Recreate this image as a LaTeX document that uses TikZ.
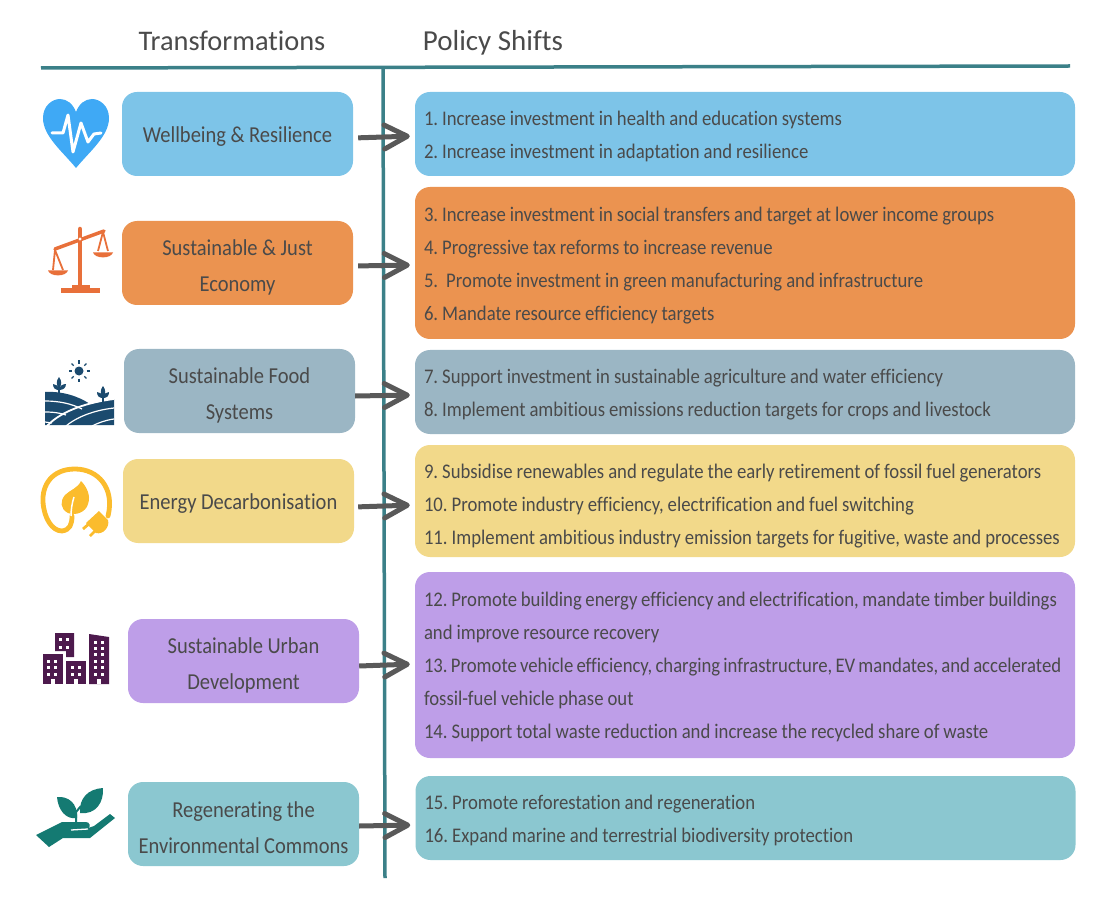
\documentclass[tikz,border=0pt]{standalone}
\usepackage{fontspec}
\setmainfont[FakeStretch=0.9,Ligatures=CommonOff]{Carlito}
\newfontfamily\headfont[Ligatures=CommonOff]{Carlito}
\usetikzlibrary{arrows.meta}
\definecolor{txt}{HTML}{4A4A4A}
\definecolor{rule}{HTML}{3B8088}
\definecolor{arrowc}{HTML}{595959}
\definecolor{cblue}{HTML}{7DC4E8}
\definecolor{corange}{HTML}{EB9350}
\definecolor{cslate}{HTML}{9BB6C4}
\definecolor{cyellow}{HTML}{F2D98A}
\definecolor{cpurple}{HTML}{BE9EE8}
\definecolor{cteal}{HTML}{8BC7D0}
\definecolor{iblue}{HTML}{3FA9F5}
\definecolor{iorange}{HTML}{E8703A}
\definecolor{inavy}{HTML}{1B4A6E}
\definecolor{iyellow}{HTML}{FBBC2D}
\definecolor{iplum}{HTML}{4D1A4D}
\definecolor{igreen}{HTML}{147A72}
\tikzset{
  x=1pt,y=-1pt,
  heading/.style={text=txt,font=\headfont\fontsize{28.4}{33}\selectfont,inner sep=0pt,anchor=base},
  lbox/.style={rounded corners=15pt,minimum width=231pt,minimum height=84pt,inner sep=1pt,text width=229pt,
    align=flush center,text=txt,font=\fontsize{22.8}{36}\selectfont\frenchspacing,execute at begin node={\spaceskip=4.5pt\relax\rule{0pt}{20pt}}},
  ltwo/.style={execute at begin node={\spaceskip=4.5pt\relax\rule{0pt}{24pt}}},
  rbox/.style={rounded corners=15pt,minimum width=660pt,inner xsep=9pt,inner ysep=0pt,text width=642pt,
    align=flush left,text=txt,font=\fontsize{20.8}{33}\selectfont\frenchspacing,execute at begin node={\spaceskip=4pt\relax\rule{0pt}{19pt}}},
  rlow/.style={execute at begin node={\spaceskip=4pt\relax\rule{0pt}{25pt}}},
  rulel/.style={draw=rule,line width=3.5pt},
  flow/.style={draw=arrowc,line width=5pt,-{Straight Barb[length=23pt,width=24pt,round]},shorten >=5pt},
}
\begin{document}
\begin{tikzpicture}
\useasboundingbox (0,0) rectangle (1106,917);
\node[heading] (h1) at (232,51) {Transformations};
\node[heading,font=\headfont\fontsize{29}{33}\selectfont] (h2) at (493,51) {Policy Shifts};
\coordinate (tl) at (41,68); \coordinate (tr) at (1070,66);
\coordinate (vt) at (383,68); \coordinate (vb) at (385,878);
% left boxes
\node[lbox,fill=cblue] (l1) at (237.5,134) {Wellbeing \& Resilience};
\node[lbox,ltwo,fill=corange] (l2) at (237.5,263) {Sustainable \& Just\\Economy};
\node[lbox,ltwo,fill=cslate] (l3) at (239.5,391) {Sustainable Food\\Systems};
\node[lbox,fill=cyellow] (l4) at (238.5,501) {Energy Decarbonisation};
\node[lbox,ltwo,fill=cpurple] (l5) at (243.5,661) {Sustainable Urban\\Development};
\node[lbox,ltwo,fill=cteal] (l6) at (243.5,824) {Regenerating the\\Environmental Commons};
% right boxes
\node[rbox,fill=cblue,minimum height=84pt] (r1) at (745,134) {1. Increase investment in health and education systems\\2. Increase investment in adaptation and resilience};
\node[rbox,fill=corange,minimum height=152pt] (r2) at (745,263) {3. Increase investment in social transfers and target at lower income groups\\4. Progressive tax reforms to increase revenue\\5.\ \ Promote investment in green manufacturing and infrastructure\\6. Mandate resource efficiency targets};
\node[rbox,fill=cslate,minimum height=84pt] (r3) at (745,392) {7. Support investment in sustainable agriculture and water efficiency\\8. Implement ambitious emissions reduction targets for crops and livestock};
\node[rbox,rlow,fill=cyellow,minimum height=112pt] (r4) at (745,501) {9. Subsidise renewables and regulate the early retirement of fossil fuel generators\\10. Promote industry efficiency, electrification and fuel switching\\\mbox{11. Implement ambitious industry emission targets for fugitive, waste and processes}};
\node[rbox,fill=cpurple,minimum height=186pt] (r5) at (745,665) {\mbox{\spaceskip=3.6pt\relax 12. Promote building energy efficiency and electrification, mandate timber buildings}\\and improve resource recovery\\\mbox{\spaceskip=3.2pt\relax 13. Promote vehicle efficiency, charging infrastructure, EV mandates, and accelerated}\\fossil-fuel vehicle phase out\\14. Support total waste reduction and increase the recycled share of waste};
\node[rbox,fill=cteal,minimum height=84pt] (r6) at (745.5,818) {15. Promote reforestation and regeneration\\16. Expand marine and terrestrial biodiversity protection};
% rules
\draw[rulel] (tl) -- (tr);
\draw[rulel] (vt) -- (vb);
% connectors
\draw[flow,shorten <=5pt] ([yshift=-4pt]l1.east) -- ([yshift=-2pt]r1.west);
\draw[flow,shorten <=5pt] ([yshift=-3pt]l2.east) -- ([yshift=-2pt]r2.west);
\draw[flow] ([yshift=-5pt]l3.east) -- ([yshift=-3pt]r3.west);
\draw[flow,shorten <=4pt] ([yshift=-6pt]l4.east) -- ([yshift=-4pt]r4.west);
\draw[flow] ([yshift=-5pt]l5.east) -- ([yshift=1pt]r5.west);
\draw[flow] ([yshift=-2pt]l6.east) -- ([yshift=-7pt]r6.west);
% heart icon
\fill[iblue] (76,168) .. controls (62,151) and (43,136) .. (43,118) .. controls (43,106) and (52,99) .. (60,99) .. controls (67,99) and (73,104) .. (76,112) .. controls (79,104) and (85,99) .. (92,99) .. controls (100,99) and (109,106) .. (109,118) .. controls (109,136) and (90,151) .. (76,168) -- cycle;
\draw[white,line width=3pt,line join=round,line cap=round] (52,133) -- (63,133) -- (68,115) -- (73,152) -- (81,123) -- (88,142) -- (94,134) -- (101,133);
% scales icon
\begin{scope}[iorange]
\draw[line width=4.5pt,line cap=round] (80,229) -- (80,287);
\draw[line width=3.5pt,line cap=round] (55,249) -- (104,231);
\draw[line width=1.8pt,line join=round] (53,270) -- (55,250) -- (63,270);
\draw[line width=1.8pt,line join=round] (98,251) -- (103,232) -- (108,251);
\fill (48,270.5) -- (68,270.5) .. controls (66,277) and (50,277) .. (48,270.5) -- cycle;
\fill (93,252.5) -- (113,252.5) .. controls (111,259) and (95,259) .. (93,252.5) -- cycle;
\fill (72,285) rectangle (90,289);
\fill (61,288) rectangle (100,293);
\fill[white] (80,239) circle (1.6pt);
\end{scope}
% field icon
\begin{scope}
\fill[inavy] (79,371) circle (4.5pt);
\foreach \a in {0,45,...,315} \draw[inavy,line width=1.3pt] (79,371) ++(\a:7.5pt) -- ++(\a:3pt);
\fill[inavy] (45,392) .. controls (62,391) and (78,396) .. (90,404) -- (114,399) -- (114,425) -- (45,425) -- cycle;
\draw[white,line width=1.2pt] (45,401) .. controls (60,401) and (72,404) .. (82,409);
\draw[white,line width=1.2pt] (45,412) .. controls (54,412) and (60,413) .. (66,415);
\draw[white,line width=1.2pt] (45,422) -- (52,423);
\draw[white,line width=1.8pt] (47,426) .. controls (62,410) and (90,402) .. (114,399);
\draw[white,line width=1.2pt] (66,426) .. controls (78,416) and (96,410) .. (114,408);
\draw[white,line width=1.2pt] (92,426) .. controls (98,423) and (106,420) .. (114,419);
\draw[inavy,line width=1.3pt] (59,379) -- (59,394);
\fill[inavy] (59,377) .. controls (62,381) and (62,385) .. (59,388) .. controls (56,385) and (56,381) .. (59,377) -- cycle;
\fill[inavy] (53,384) .. controls (56,384) and (59,386) .. (59,390) .. controls (55,390) and (53,388) .. (53,384) -- cycle;
\fill[inavy] (66,384) .. controls (63,384) and (59,386) .. (59,390) .. controls (63,390) and (66,388) .. (66,384) -- cycle;
\draw[inavy,line width=1.3pt] (103,387) -- (103,403);
\fill[inavy] (103,386) .. controls (106,390) and (106,394) .. (103,397) .. controls (100,394) and (100,390) .. (103,386) -- cycle;
\fill[inavy] (97,392) .. controls (100,392) and (103,394) .. (103,398) .. controls (99,398) and (97,396) .. (97,392) -- cycle;
\fill[inavy] (109,392) .. controls (106,392) and (103,394) .. (103,398) .. controls (107,398) and (109,396) .. (109,392) -- cycle;
\end{scope}
% energy icon
\begin{scope}[iyellow]
\draw[line width=4.8pt,line cap=round] (108,516) .. controls (115,488) and (98,469) .. (75,469) .. controls (52,469) and (42,485) .. (43,502) .. controls (44,518) and (52,531) .. (62,531) .. controls (70,530) and (72,524) .. (72,516);
\fill (81,481) .. controls (87,487) and (91,496) .. (88,504) .. controls (86,512) and (76,516) .. (68,513) .. controls (60,509) and (60,501) .. (65,495) .. controls (70,490) and (78,488) .. (81,481) -- cycle;
\draw[white,line width=1.5pt] (74,497) .. controls (72,503) and (71,510) .. (71,516);
\fill (99,511) -- (108,520) .. controls (110,527) and (103,535) .. (96,533) -- (86,523) -- cycle;
\draw[line width=2.8pt] (90,523) -- (83,529);
\draw[line width=2.8pt] (96,530) -- (90,536);
\end{scope}
% city icon
\begin{scope}
\fill[iplum] (55,633) -- (74,633) -- (74,657) -- (66,657) -- (66,651) -- (55,651) -- cycle;
\fill[iplum] (43,654) rectangle (63,684);
\fill[iplum] (66,661) rectangle (86,684);
\fill[iplum] (89,634) -- (109,637) -- (109,684) -- (89,684) -- cycle;
\foreach \x in {58.5,65.5} \foreach \y in {637.5,645.5} \fill[white] (\x,\y) rectangle ++(3,3);
\foreach \x in {47,54} \foreach \y in {659.5,665.5,672.5} \fill[white] (\x,\y) rectangle ++(3,3);
\foreach \x in {71,78} \foreach \y in {665.5,672.5} \fill[white] (\x,\y) rectangle ++(3,3);
\foreach \x in {93.5,100.5} \foreach \y in {640.5,646.5,652.5,659.5,665.5,672.5} \fill[white] (\x,\y) rectangle ++(3,3);
\fill[white] (51,679) rectangle (55,684);
\fill[white] (74,679) rectangle (78,684);
\fill[white] (97,679) rectangle (101,684);
\end{scope}
% hand icon
\begin{scope}
\fill[igreen] (36,835) -- (62,822) -- (86,822) .. controls (90,822) and (91,827) .. (88,828) -- (94,826) -- (110,814) -- (115,818) -- (90,838) -- (63,838) -- (49,847) -- cycle;
\draw[white,line width=1.3pt] (71,830) -- (88,829);
\fill[igreen] (57,797) .. controls (68,796) and (78,803) .. (77,818) .. controls (66,820) and (58,810) .. (57,797) -- cycle;
\fill[igreen] (103,788) .. controls (104,802) and (96,815) .. (80,813) .. controls (79,798) and (88,789) .. (103,788) -- cycle;
\draw[igreen,line width=2pt] (76,822) -- (76,812) -- (81,806);
\end{scope}
\end{tikzpicture}
\end{document}
